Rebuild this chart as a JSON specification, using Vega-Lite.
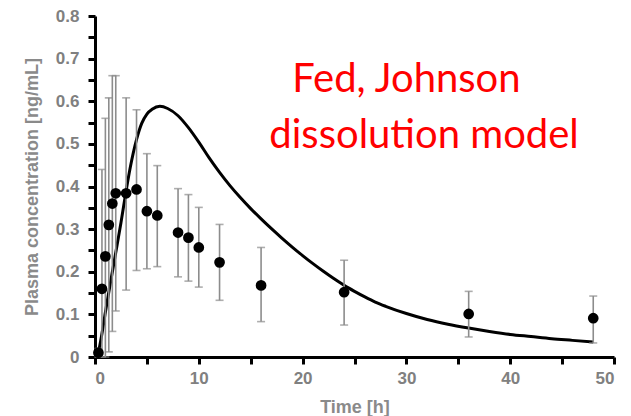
{
  "$schema": "https://vega.github.io/schema/vega-lite/v6.json",
  "width": 519,
  "height": 341,
  "autosize": {"type": "none"},
  "padding": {"left": 95, "top": 16, "right": 17, "bottom": 59},
  "background": "white",
  "config": {
    "view": {"stroke": null},
    "axis": {
      "grid": false,
      "ticks": true,
      "domainColor": "black",
      "domainWidth": 3,
      "tickColor": "black",
      "tickWidth": 3,
      "tickSize": 7,
      "labelColor": "#808080",
      "labelFont": "Liberation Sans",
      "labelFontWeight": "bold",
      "labelFontSize": 17,
      "titleColor": "#8a8a8a",
      "titleFont": "Liberation Sans",
      "titleFontWeight": "bold",
      "titleFontSize": 18,
      "zindex": 1
    }
  },
  "datasets": {
    "obs": [
      {"t": 0.33, "mean": 0.01, "lo": 0.0, "hi": 0.02},
      {"t": 0.67, "mean": 0.16, "lo": 0.0, "hi": 0.44},
      {"t": 1, "mean": 0.236, "lo": 0.0, "hi": 0.56},
      {"t": 1.33, "mean": 0.31, "lo": 0.012, "hi": 0.608},
      {"t": 1.67, "mean": 0.36, "lo": 0.06, "hi": 0.66},
      {"t": 2, "mean": 0.384, "lo": 0.108, "hi": 0.66},
      {"t": 3, "mean": 0.384, "lo": 0.157, "hi": 0.608},
      {"t": 4, "mean": 0.393, "lo": 0.203, "hi": 0.58},
      {"t": 5, "mean": 0.342, "lo": 0.207, "hi": 0.477},
      {"t": 6, "mean": 0.332, "lo": 0.212, "hi": 0.449},
      {"t": 8, "mean": 0.292, "lo": 0.188, "hi": 0.395},
      {"t": 9, "mean": 0.28, "lo": 0.178, "hi": 0.381},
      {"t": 10, "mean": 0.257, "lo": 0.164, "hi": 0.351},
      {"t": 12, "mean": 0.222, "lo": 0.133, "hi": 0.311},
      {"t": 16, "mean": 0.168, "lo": 0.083, "hi": 0.257},
      {"t": 24, "mean": 0.152, "lo": 0.075, "hi": 0.227},
      {"t": 36, "mean": 0.101, "lo": 0.047, "hi": 0.154},
      {"t": 48, "mean": 0.091, "lo": 0.033, "hi": 0.143}
    ],
    "model": [
      {"t": 0, "c": 0},
      {"t": 0.3, "c": 0.01},
      {"t": 0.6, "c": 0.045},
      {"t": 1, "c": 0.105},
      {"t": 1.5, "c": 0.176},
      {"t": 2, "c": 0.245},
      {"t": 2.5, "c": 0.315},
      {"t": 3, "c": 0.39},
      {"t": 3.4, "c": 0.445},
      {"t": 4, "c": 0.51},
      {"t": 4.5, "c": 0.548},
      {"t": 5, "c": 0.57},
      {"t": 5.5, "c": 0.581},
      {"t": 6.25, "c": 0.588},
      {"t": 7, "c": 0.583},
      {"t": 8, "c": 0.566},
      {"t": 9, "c": 0.538},
      {"t": 10, "c": 0.504},
      {"t": 11, "c": 0.467},
      {"t": 12, "c": 0.433},
      {"t": 13, "c": 0.402},
      {"t": 14, "c": 0.374},
      {"t": 15, "c": 0.348},
      {"t": 16, "c": 0.324},
      {"t": 17, "c": 0.301},
      {"t": 18, "c": 0.279},
      {"t": 19, "c": 0.258},
      {"t": 20, "c": 0.238},
      {"t": 21, "c": 0.219},
      {"t": 22, "c": 0.201},
      {"t": 23, "c": 0.184},
      {"t": 24, "c": 0.168},
      {"t": 25, "c": 0.154},
      {"t": 26, "c": 0.141},
      {"t": 27, "c": 0.129},
      {"t": 28, "c": 0.119},
      {"t": 30, "c": 0.102},
      {"t": 32, "c": 0.088},
      {"t": 34, "c": 0.077},
      {"t": 36, "c": 0.068},
      {"t": 38, "c": 0.06},
      {"t": 40, "c": 0.053},
      {"t": 42, "c": 0.048},
      {"t": 44, "c": 0.043},
      {"t": 46, "c": 0.039},
      {"t": 48, "c": 0.035}
    ],
    "notes": [
      {"note": "Fed, Johnson", "t": 30.0, "c": 0.622},
      {"note": "dissolution model", "t": 31.7, "c": 0.49}
    ]
  },
  "layer": [
    {
      "data": {"name": "model"},
      "mark": {"type": "line", "color": "black", "strokeWidth": 3, "interpolate": "monotone"},
      "encoding": {
        "x": {
          "field": "t", "type": "quantitative", "title": "Time [h]",
          "scale": {"domain": [0, 50], "nice": false, "zero": false},
          "axis": {
            "values": [0, 5, 10, 15, 20, 25, 30, 35, 40, 45, 50],
            "format": "~g",
            "labelExpr": "datum.value % 10 == 0 ? datum.label : ''",
            "labelPadding": 6, "titlePadding": 12, "ticks": true, "tickSize": 7
          }
        },
        "y": {
          "field": "c", "type": "quantitative", "title": "Plasma concentration [ng/mL]",
          "scale": {"domain": [0, 0.8], "nice": false},
          "axis": {
            "values": [0, 0.05, 0.1, 0.15, 0.2, 0.25, 0.3, 0.35, 0.4, 0.45, 0.5, 0.55, 0.6, 0.65, 0.7, 0.75, 0.8],
            "format": "~g",
            "labelExpr": "round(datum.value * 20) % 2 == 0 ? datum.label : ''",
            "labelPadding": 9, "titlePadding": 14, "ticks": true, "tickSize": 7
          }
        }
      }
    },
    {
      "data": {"name": "obs"},
      "mark": {"type": "errorbar", "color": "#8c8c8c", "thickness": 1.6, "ticks": true, "size": 8},
      "encoding": {
        "x": {
          "field": "t", "type": "quantitative", "title": "Time [h]",
          "axis": {
            "values": [0, 5, 10, 15, 20, 25, 30, 35, 40, 45, 50],
            "format": "~g",
            "labelExpr": "datum.value % 10 == 0 ? datum.label : ''",
            "labelPadding": 6, "titlePadding": 12, "ticks": true, "tickSize": 7
          }
        },
        "y": {
          "field": "lo", "type": "quantitative", "title": "Plasma concentration [ng/mL]",
          "axis": {
            "values": [0, 0.05, 0.1, 0.15, 0.2, 0.25, 0.3, 0.35, 0.4, 0.45, 0.5, 0.55, 0.6, 0.65, 0.7, 0.75, 0.8],
            "format": "~g",
            "labelExpr": "round(datum.value * 20) % 2 == 0 ? datum.label : ''",
            "labelPadding": 9, "titlePadding": 14, "ticks": true, "tickSize": 7
          }
        },
        "y2": {"field": "hi"}
      }
    },
    {
      "data": {"name": "obs"},
      "mark": {"type": "circle", "color": "black", "size": 115, "opacity": 1},
      "encoding": {
        "x": {
          "field": "t", "type": "quantitative", "title": "Time [h]",
          "axis": {
            "values": [0, 5, 10, 15, 20, 25, 30, 35, 40, 45, 50],
            "format": "~g",
            "labelExpr": "datum.value % 10 == 0 ? datum.label : ''",
            "labelPadding": 6, "titlePadding": 12, "ticks": true, "tickSize": 7
          }
        },
        "y": {
          "field": "mean", "type": "quantitative", "title": "Plasma concentration [ng/mL]",
          "axis": {
            "values": [0, 0.05, 0.1, 0.15, 0.2, 0.25, 0.3, 0.35, 0.4, 0.45, 0.5, 0.55, 0.6, 0.65, 0.7, 0.75, 0.8],
            "format": "~g",
            "labelExpr": "round(datum.value * 20) % 2 == 0 ? datum.label : ''",
            "labelPadding": 9, "titlePadding": 14, "ticks": true, "tickSize": 7
          }
        }
      }
    },
    {
      "data": {"name": "notes"},
      "mark": {"type": "text", "color": "#ff0000", "font": "Lato", "fontSize": 40, "align": "center", "baseline": "alphabetic"},
      "encoding": {
        "x": {
          "field": "t", "type": "quantitative", "title": "Time [h]",
          "axis": {
            "values": [0, 5, 10, 15, 20, 25, 30, 35, 40, 45, 50],
            "format": "~g",
            "labelExpr": "datum.value % 10 == 0 ? datum.label : ''",
            "labelPadding": 6, "titlePadding": 12, "ticks": true, "tickSize": 7
          }
        },
        "y": {
          "field": "c", "type": "quantitative", "title": "Plasma concentration [ng/mL]",
          "axis": {
            "values": [0, 0.05, 0.1, 0.15, 0.2, 0.25, 0.3, 0.35, 0.4, 0.45, 0.5, 0.55, 0.6, 0.65, 0.7, 0.75, 0.8],
            "format": "~g",
            "labelExpr": "round(datum.value * 20) % 2 == 0 ? datum.label : ''",
            "labelPadding": 9, "titlePadding": 14, "ticks": true, "tickSize": 7
          }
        },
        "text": {"field": "note"}
      }
    }
  ]
}
